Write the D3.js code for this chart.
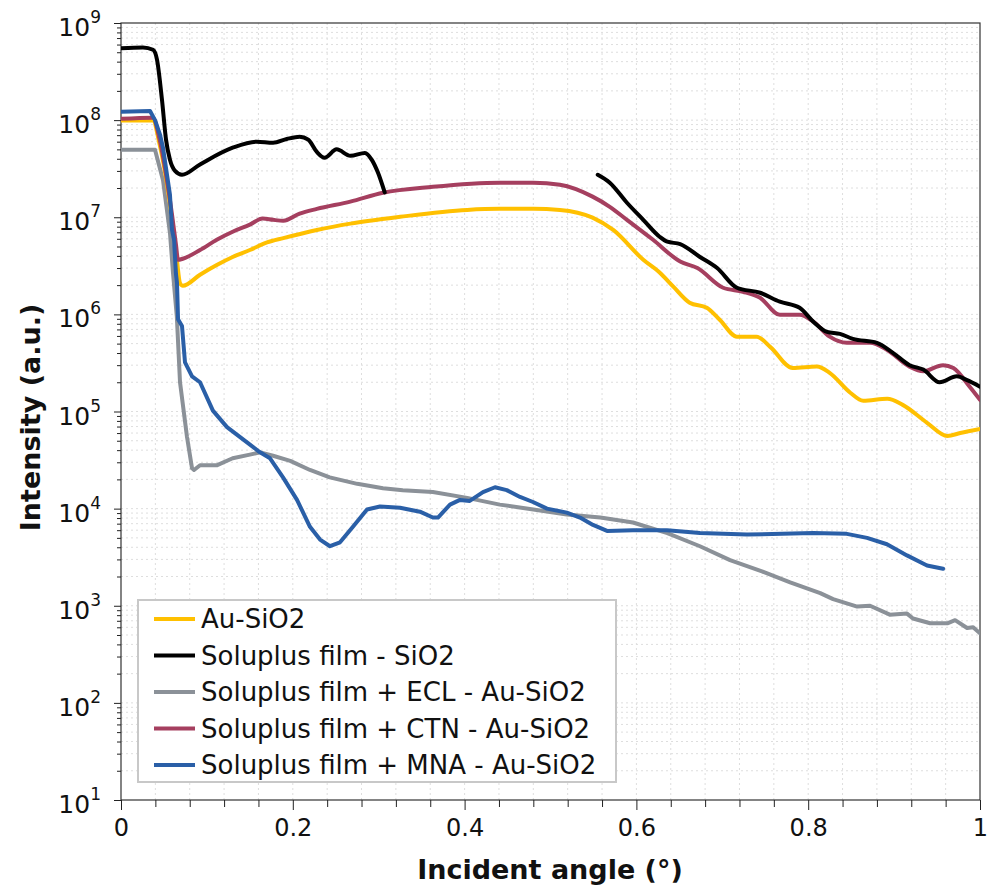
<!DOCTYPE html>
<html lang="en">
<head>
  <meta charset="UTF-8">
  <title>Reflectivity</title>
  <script src="https://d3js.org/d3.v7.min.js"></script>
  <style>
    body { margin: 0; background: #fff; }
    text { font-family: "DejaVu Sans", sans-serif; fill: #111; }
    .grid line { stroke: #dedede; stroke-width: 1; stroke-dasharray: 2,3; }
    .axis path, .axis line { stroke: #222; }
  </style>
</head>
<body>
  <div id="chart"></div>

  <script>
    // series (incident angle in degrees, intensity in a.u.)
    const xAu = [0, 0.037, 0.045, 0.0535, 0.0594, 0.065, 0.0687, 0.072, 0.092, 0.112, 0.130, 0.150, 0.170, 0.189, 0.228, 0.267, 0.325, 0.403, 0.441, 0.480, 0.511, 0.549, 0.573, 0.608, 0.627, 0.643, 0.662, 0.682, 0.697, 0.717, 0.740, 0.756, 0.782, 0.810, 0.825, 0.849, 0.864, 0.892, 0.910, 0.938, 0.962, 0.977, 1.0];
    const yAu = [9.9e7, 9.9e7, 5.6e7, 2.2e7, 9.4e6, 3.7e6, 2.1e6, 1.97e6, 2.56e6, 3.24e6, 3.9e6, 4.6e6, 5.5e6, 6.1e6, 7.4e6, 8.6e6, 1.01e7, 1.19e7, 1.22e7, 1.22e7, 1.19e7, 9.9e6, 7.4e6, 3.65e6, 2.7e6, 1.93e6, 1.32e6, 1.17e6, 8.8e5, 5.9e5, 5.9e5, 4.6e5, 2.8e5, 2.9e5, 2.5e5, 1.56e5, 1.29e5, 1.35e5, 1.17e5, 7.7e4, 5.6e4, 6.0e4, 6.6e4];

    const xFilmA = [0, 0.0256, 0.0373, 0.0419, 0.0477, 0.0524, 0.057, 0.0629, 0.071, 0.092, 0.130, 0.158, 0.177, 0.193, 0.208, 0.218, 0.228, 0.237, 0.251, 0.267, 0.284, 0.292, 0.299, 0.307];
    const yFilmA = [5.5e8, 5.6e8, 5.3e8, 4.2e8, 1.62e8, 6.3e7, 3.9e7, 3.0e7, 2.74e7, 3.5e7, 5.2e7, 6.0e7, 5.85e7, 6.4e7, 6.75e7, 6.3e7, 4.7e7, 4.1e7, 5.0e7, 4.3e7, 4.6e7, 3.9e7, 2.9e7, 1.8e7];
    const xFilmB = [0.555, 0.569, 0.589, 0.608, 0.627, 0.636, 0.651, 0.674, 0.694, 0.717, 0.744, 0.767, 0.790, 0.806, 0.822, 0.837, 0.852, 0.880, 0.899, 0.918, 0.934, 0.953, 0.973, 0.985, 1.0];
    const yFilmB = [2.74e7, 2.27e7, 1.41e7, 9.4e6, 6.3e6, 5.6e6, 5.3e6, 3.9e6, 3.0e6, 1.88e6, 1.67e6, 1.35e6, 1.17e6, 8.4e5, 6.6e5, 6.3e5, 5.6e5, 5.1e5, 4.0e5, 3.0e5, 2.7e5, 2.0e5, 2.3e5, 2.1e5, 1.8e5];

    const xEcl = [0, 0.0396, 0.0489, 0.057, 0.0605, 0.065, 0.0687, 0.0768, 0.0827, 0.085, 0.092, 0.112, 0.130, 0.150, 0.162, 0.177, 0.197, 0.220, 0.243, 0.275, 0.305, 0.328, 0.363, 0.403, 0.441, 0.480, 0.519, 0.558, 0.596, 0.636, 0.674, 0.709, 0.747, 0.779, 0.814, 0.829, 0.857, 0.872, 0.895, 0.915, 0.922, 0.942, 0.962, 0.971, 0.985, 0.992, 1.0];
    const yEcl = [4.96e7, 4.96e7, 2.4e7, 6.9e6, 2.7e6, 9.5e5, 2.0e5, 5.5e4, 2.6e4, 2.5e4, 2.8e4, 2.8e4, 3.3e4, 3.6e4, 3.8e4, 3.5e4, 3.1e4, 2.5e4, 2.1e4, 1.8e4, 1.62e4, 1.55e4, 1.48e4, 1.29e4, 1.1e4, 9.8e3, 8.7e3, 8.1e3, 7.2e3, 5.6e3, 4.1e3, 2.95e3, 2.24e3, 1.74e3, 1.35e3, 1.17e3, 9.8e2, 1.0e3, 8.1e2, 8.3e2, 7.4e2, 6.6e2, 6.6e2, 7.1e2, 5.9e2, 6.0e2, 5.2e2];

    const xCtn = [0, 0.037, 0.045, 0.0535, 0.0594, 0.064, 0.0664, 0.072, 0.092, 0.112, 0.130, 0.150, 0.165, 0.177, 0.189, 0.208, 0.228, 0.267, 0.305, 0.363, 0.441, 0.480, 0.511, 0.549, 0.569, 0.589, 0.619, 0.651, 0.671, 0.701, 0.724, 0.744, 0.767, 0.790, 0.806, 0.825, 0.845, 0.872, 0.892, 0.918, 0.934, 0.957, 0.969, 0.988, 1.0];
    const yCtn = [1.03e8, 1.06e8, 6.3e7, 2.4e7, 1.06e7, 5.2e6, 3.65e6, 3.74e6, 4.6e6, 5.9e6, 7.1e6, 8.4e6, 9.7e6, 9.4e6, 9.2e6, 1.09e7, 1.22e7, 1.45e7, 1.79e7, 2.06e7, 2.27e7, 2.27e7, 2.16e7, 1.63e7, 1.28e7, 9.4e6, 5.9e6, 3.5e6, 3.0e6, 1.88e6, 1.71e6, 1.48e6, 9.9e5, 9.9e5, 8.4e5, 5.9e5, 5.1e5, 5.1e5, 4.3e5, 2.9e5, 2.6e5, 3.0e5, 2.8e5, 1.8e5, 1.32e5];

    const xMna = [0, 0.0338, 0.0396, 0.0454, 0.0489, 0.0535, 0.057, 0.0594, 0.0617, 0.064, 0.0652, 0.0664, 0.071, 0.0745, 0.0827, 0.092, 0.107, 0.1234, 0.1467, 0.1618, 0.1735, 0.1886, 0.2049, 0.22, 0.2317, 0.2433, 0.255, 0.270, 0.2864, 0.3015, 0.3248, 0.348, 0.363, 0.369, 0.383, 0.3946, 0.406, 0.4214, 0.4354, 0.449, 0.4645, 0.4796, 0.4959, 0.519, 0.5343, 0.5495, 0.5658, 0.596, 0.6356, 0.674, 0.7287, 0.8056, 0.845, 0.8685, 0.8917, 0.915, 0.9383, 0.957];
    const yMna = [1.22e8, 1.24e8, 1.0e8, 7.1e7, 5.2e7, 2.75e7, 1.7e7, 7.4e6, 5.9e6, 2.6e6, 2.1e6, 8.9e5, 7.6e5, 3.2e5, 2.3e5, 2.0e5, 1.02e5, 6.9e4, 4.8e4, 3.8e4, 3.3e4, 2.1e4, 1.23e4, 6.5e3, 4.8e3, 4.1e3, 4.5e3, 6.5e3, 9.8e3, 1.05e4, 1.02e4, 9.3e3, 8.1e3, 8.1e3, 1.1e4, 1.23e4, 1.2e4, 1.48e4, 1.66e4, 1.55e4, 1.32e4, 1.17e4, 1.0e4, 9.1e3, 8.1e3, 6.8e3, 5.9e3, 6.0e3, 6.0e3, 5.6e3, 5.4e3, 5.6e3, 5.5e3, 5.0e3, 4.3e3, 3.3e3, 2.6e3, 2.4e3];

    const xTicks = [0, 0.2, 0.4, 0.6, 0.8, 1];
    const yExponents = [1, 2, 3, 4, 5, 6, 7, 8, 9];

    const legendNames = ["Au-SiO2", "Soluplus film - SiO2", "Soluplus film + ECL - Au-SiO2", "Soluplus film + CTN - Au-SiO2", "Soluplus film + MNA - Au-SiO2"];
    const colors = ["#ffc000", "#000000", "#8b9198", "#a53f5f", "#2a5fa7"];

    const W = 990, H = 885;
    const margin = { top: 23, right: 10, bottom: 85, left: 121 };
    const width = W - margin.left - margin.right;
    const height = H - margin.top - margin.bottom;

    const svg = d3.select("#chart").append("svg")
      .attr("width", W)
      .attr("height", H);

    const g = svg.append("g")
      .attr("transform", `translate(${margin.left},${margin.top})`);

    const x = d3.scaleLinear().domain([0, 1]).range([0, width]);
    const y = d3.scaleLog().domain([1e1, 1e9]).range([height, 0]);

    // minor tick values
    const xMinor = d3.range(0, 1.0001, 0.04).filter(v => Math.abs(v * 5 - Math.round(v * 5)) > 1e-6);
    const yMinor = [];
    yExponents.slice(0, -1).forEach(e => {
      for (let k = 2; k <= 9; k++) yMinor.push(k * Math.pow(10, e));
    });

    // grid
    const grid = g.append("g").attr("class", "grid");
    grid.selectAll(".gx")
      .data(xMinor.concat(xTicks.slice(1, -1)))
      .enter().append("line")
      .attr("x1", d => x(d)).attr("x2", d => x(d))
      .attr("y1", 0).attr("y2", height);
    grid.selectAll(".gy")
      .data(yMinor.concat(yExponents.slice(1, -1).map(e => Math.pow(10, e))))
      .enter().append("line")
      .attr("x1", 0).attr("x2", width)
      .attr("y1", d => y(d)).attr("y2", d => y(d));

    // frame
    g.append("rect")
      .attr("width", width)
      .attr("height", height)
      .attr("fill", "none")
      .attr("stroke", "#333")
      .attr("stroke-width", 1.2);

    // axes
    g.append("g")
      .attr("class", "axis")
      .attr("transform", `translate(0,${height})`)
      .call(d3.axisBottom(x).tickValues(xTicks).tickSize(10).tickPadding(9)
        .tickFormat(d => d === 0 ? "0" : d === 1 ? "1" : d3.format(".1f")(d)))
      .call(a => a.select(".domain").remove())
      .selectAll("text")
      .style("font-size", "24px")
      .style("font-family", "DejaVu Sans");

    g.append("g")
      .attr("class", "axis")
      .attr("transform", `translate(0,${height})`)
      .call(d3.axisBottom(x).tickValues(xMinor).tickSize(7).tickFormat(""))
      .call(a => a.select(".domain").remove());

    g.append("g")
      .attr("class", "axis")
      .call(d3.axisLeft(y).tickValues(yExponents.map(e => Math.pow(10, e))).tickSize(7).tickFormat(""))
      .call(a => a.select(".domain").remove());

    g.append("g")
      .attr("class", "axis")
      .call(d3.axisLeft(y).tickValues(yMinor).tickSize(4).tickFormat(""))
      .call(a => a.select(".domain").remove());

    // y tick labels 10^n
    const yLab = g.append("g").selectAll("text")
      .data(yExponents)
      .enter().append("text")
      .attr("x", -20)
      .attr("y", d => y(Math.pow(10, d)) + 13)
      .attr("text-anchor", "end")
      .style("font-size", "25px");
    yLab.append("tspan").text("10");
    yLab.append("tspan")
      .attr("dy", -13)
      .style("font-size", "17px")
      .text(d => d);

    // axis titles
    svg.append("text")
      .attr("x", 550)
      .attr("y", 879)
      .attr("text-anchor", "middle")
      .style("font-size", "27px")
      .style("font-weight", "bold")
      .text("Incident angle (°)");

    svg.append("text")
      .attr("transform", `translate(40,${margin.top + height / 2 + 6}) rotate(-90)`)
      .attr("text-anchor", "middle")
      .style("font-size", "27px")
      .style("font-weight", "bold")
      .text("Intensity (a.u.)");

    // lines
    g.append("clipPath").attr("id", "clip")
      .append("rect").attr("width", width).attr("height", height);

    const smooth = d3.line().x(d => x(d[0])).y(d => y(d[1])).curve(d3.curveMonotoneX);
    const rough = d3.line().x(d => x(d[0])).y(d => y(d[1]));

    const series = [
      { xs: xEcl, ys: yEcl, c: colors[2], gen: rough },
      { xs: xAu, ys: yAu, c: colors[0], gen: smooth },
      { xs: xCtn, ys: yCtn, c: colors[3], gen: smooth },
      { xs: xMna, ys: yMna, c: colors[4], gen: rough },
      { xs: xFilmA, ys: yFilmA, c: colors[1], gen: smooth },
      { xs: xFilmB, ys: yFilmB, c: colors[1], gen: smooth }
    ];

    const lines = g.append("g").attr("clip-path", "url(#clip)");
    series.forEach(s => {
      lines.append("path")
        .datum(s.xs.map((v, i) => [v, s.ys[i]]))
        .attr("d", s.gen)
        .attr("fill", "none")
        .attr("stroke", s.c)
        .attr("stroke-width", 4)
        .attr("stroke-linejoin", "round")
        .attr("stroke-linecap", "round");
    });

    // legend
    const legend = svg.append("g").attr("transform", "translate(138,600)");
    legend.append("rect")
      .attr("width", 478)
      .attr("height", 182)
      .attr("fill", "#fff")
      .attr("stroke", "#c8c8c8")
      .attr("stroke-width", 2);

    const item = legend.selectAll(".item")
      .data(legendNames)
      .enter().append("g")
      .attr("transform", (d, i) => `translate(0,${19 + i * 36.5})`);

    item.append("line")
      .attr("x1", 16).attr("x2", 57)
      .attr("stroke", (d, i) => colors[i])
      .attr("stroke-width", 4);

    item.append("text")
      .attr("x", 63)
      .attr("dy", "0.36em")
      .style("font-size", "26px")
      .text(d => d);
  </script>
</body>
</html>
